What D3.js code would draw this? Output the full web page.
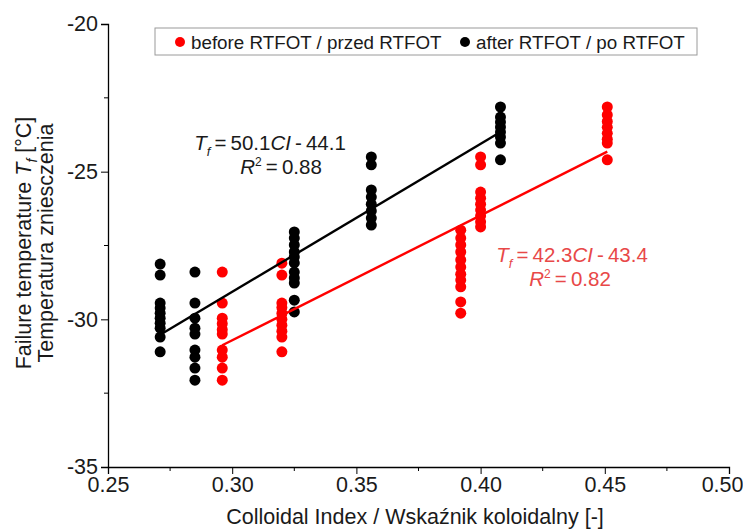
<!DOCTYPE html>
<html>
<head>
<meta charset="utf-8">
<script src="https://cdn.jsdelivr.net/npm/d3@7"></script>
<style>
  html, body { margin: 0; padding: 0; background: #fff; }
  svg { display: block; font-family: "Liberation Sans", Arial, sans-serif; }
</style>
</head>
<body>
<svg id="chart" width="743" height="530"></svg>
<script>
// Colloidal index values and failure temperatures, before ageing (RTFOT)
const beforeCI = [
  0.296,0.296,0.296,0.296,0.296,0.296,0.296,0.296,0.296,0.296,
  0.320,0.320,0.320,0.320,0.320,0.320,0.320,0.320,0.320,0.320,
  0.392,0.392,0.392,0.392,0.392,0.392,0.392,0.392,0.392,0.392,0.392,
  0.400,0.400,0.400,0.400,0.400,0.400,0.400,0.400,0.400,
  0.451,0.451,0.451,0.451,0.451,0.451,0.451,0.451
];
const beforeTf = [
  -28.4,-29.45,-29.96,-30.15,-30.35,-30.5,-31.04,-31.28,-31.65,-32.06,
  -28.1,-28.5,-29.45,-29.6,-29.8,-30.0,-30.2,-30.4,-30.6,-31.1,
  -26.98,-27.25,-27.48,-27.72,-27.99,-28.23,-28.47,-28.67,-28.9,-29.41,-29.79,
  -24.5,-24.77,-25.69,-25.9,-26.1,-26.3,-26.5,-26.7,-26.87,
  -22.81,-23.08,-23.3,-23.5,-23.7,-23.9,-24.03,-24.6
];
// After ageing (RTFOT)
const afterCI = [
  0.271,0.271,0.271,0.271,0.271,0.271,0.271,0.271,0.271,0.271,
  0.285,0.285,0.285,0.285,0.285,0.285,0.285,0.285,0.285,
  0.325,0.325,0.325,0.325,0.325,0.325,0.325,0.325,0.325,0.325,0.325,
  0.356,0.356,0.356,0.356,0.356,0.356,0.356,0.356,
  0.408,0.408,0.408,0.408,0.408,0.408,0.408,0.408
];
const afterTf = [
  -28.13,-28.5,-29.45,-29.62,-29.79,-29.96,-30.13,-30.3,-30.6,-31.1,
  -28.4,-29.45,-29.96,-30.3,-30.5,-31.04,-31.28,-31.65,-32.06,
  -27.04,-27.25,-27.48,-27.72,-27.89,-28.09,-28.4,-28.6,-28.77,-29.35,-29.75,
  -24.5,-24.77,-25.62,-25.86,-26.1,-26.33,-26.57,-26.81,
  -22.81,-23.15,-23.32,-23.49,-23.66,-23.83,-24.03,-24.6
];
// Linear fits: slope, intercept, R²
const fitBefore = [42.3, -43.4, 0.82];
const fitAfter = [50.1, -44.1, 0.88];

const xTicks = [0.25, 0.30, 0.35, 0.40, 0.45, 0.50];
const xMinor = [0.275, 0.325, 0.375, 0.425, 0.475];
const yTicks = [-20, -25, -30, -35];
const yMinor = [-22.5, -27.5, -32.5];

const svg = d3.select("#chart");
const x = d3.scaleLinear().domain([0.25, 0.50]).range([108, 729]);
const y = d3.scaleLinear().domain([-35, -20]).range([467, 24]);

const RED = "#ff0000", TXTRED = "#e84848", INK = "#1a1a1a";
const FONT = "Liberation Sans, Arial, sans-serif";

// Axes
const xAxis = d3.axisBottom(x).tickValues(xTicks).tickFormat(d3.format(".2f")).tickSizeOuter(0).tickSize(7).tickPadding(3);
const gx = svg.append("g").attr("transform", `translate(0,${y(-35)})`).call(xAxis);
gx.selectAll("text").attr("font-size", 21.5).attr("fill", INK).attr("font-family", FONT);
// keep the last tick label inside the page
gx.selectAll(".tick").filter(d => d === 0.50).select("text").attr("text-anchor", "end").attr("x", 14);
gx.append("g").selectAll("line").data(xMinor).join("line")
  .attr("x1", d => x(d)).attr("x2", d => x(d)).attr("y1", 0).attr("y2", 4).attr("stroke", "#000");

const yAxis = d3.axisLeft(y).tickValues(yTicks).tickFormat(d => d3.format("d")(d).replace("\u2212", "-"))
  .tickSizeOuter(0).tickSize(7).tickPadding(3);
const gy = svg.append("g").attr("transform", `translate(${x(0.25)},0)`).call(yAxis);
gy.selectAll("text").attr("font-size", 21.5).attr("fill", INK).attr("font-family", FONT);
gy.append("g").selectAll("line").data(yMinor).join("line")
  .attr("y1", d => y(d)).attr("y2", d => y(d)).attr("x1", 0).attr("x2", -4).attr("stroke", "#000");
svg.selectAll(".domain").attr("stroke", "#000").attr("stroke-width", 1.3);

// Fit lines over each series' range
function fitLine(ci, fit, color) {
  const [lo, hi] = d3.extent(ci);
  svg.append("line")
    .attr("x1", x(lo)).attr("y1", y(fit[0] * lo + fit[1]))
    .attr("x2", x(hi)).attr("y2", y(fit[0] * hi + fit[1]))
    .attr("stroke", color).attr("stroke-width", 2.4);
}

// Points
function points(ci, tf, color) {
  svg.append("g").selectAll("circle").data(ci).join("circle")
    .attr("cx", d => x(d)).attr("cy", (d, i) => y(tf[i])).attr("r", 5.5).attr("fill", color);
}
points(afterCI, afterTf, "#000");
points(beforeCI, beforeTf, RED);
fitLine(afterCI, fitAfter, "#000");
fitLine(beforeCI, fitBefore, RED);

// Legend
svg.append("rect").attr("x", 155).attr("y", 28).attr("width", 542).attr("height", 27)
  .attr("fill", "#fff").attr("stroke", "#9a9a9a").attr("stroke-width", 1);
const legend = [["before RTFOT / przed RTFOT", RED, 180], ["after RTFOT / po RTFOT", "#000", 465]];
legend.forEach(([label, color, lx]) => {
  svg.append("circle").attr("cx", lx).attr("cy", 42).attr("r", 5).attr("fill", color);
  svg.append("text").attr("x", lx + 11).attr("y", 49).attr("font-size", 18.8).attr("fill", INK).text(label);
});

// Regression equations
function equation(cx1, cy, cx2, fit, color) {
  const t = svg.append("text").attr("x", cx1).attr("y", cy).attr("text-anchor", "middle")
    .attr("font-size", 20.5).attr("fill", color);
  t.append("tspan").attr("font-style", "italic").text("T");
  t.append("tspan").attr("font-style", "italic").attr("font-size", 13).attr("dy", 6).text("f");
  t.append("tspan").attr("dy", -6).text("\u2009=\u2009" + fit[0].toFixed(1));
  t.append("tspan").attr("font-style", "italic").text("CI");
  t.append("tspan").text("\u2009-\u2009" + Math.abs(fit[1]).toFixed(1));
  const r = svg.append("text").attr("x", cx2).attr("y", cy + 24).attr("text-anchor", "middle")
    .attr("font-size", 20.5).attr("fill", color);
  r.append("tspan").attr("font-style", "italic").text("R");
  r.append("tspan").attr("font-size", 12).attr("dy", -8).text("2");
  r.append("tspan").attr("dy", 8).text("\u2009=\u2009" + fit[2].toFixed(2));
}
equation(270, 150, 281, fitAfter, INK);
equation(572, 262, 570, fitBefore, TXTRED);

// Axis titles
const yt = svg.append("text").attr("transform", `translate(31,243) rotate(-90)`).attr("text-anchor", "middle")
  .attr("font-size", 21.5).attr("fill", INK);
yt.append("tspan").text("Failure temperature ");
yt.append("tspan").attr("font-style", "italic").text("T");
yt.append("tspan").attr("font-style", "italic").attr("font-size", 14).attr("dy", 6).text("f");
yt.append("tspan").attr("dy", -6).text(" [\u00b0C]");
svg.append("text").attr("transform", `translate(53,243) rotate(-90)`).attr("text-anchor", "middle")
  .attr("font-size", 21.5).attr("fill", INK).text("Temperatura zniesczenia");

svg.append("text").attr("x", 415).attr("y", 524).attr("text-anchor", "middle")
  .attr("font-size", 21.5).attr("fill", INK).text("Colloidal Index / Wska\u017anik koloidalny [-]");
</script>
</body>
</html>
